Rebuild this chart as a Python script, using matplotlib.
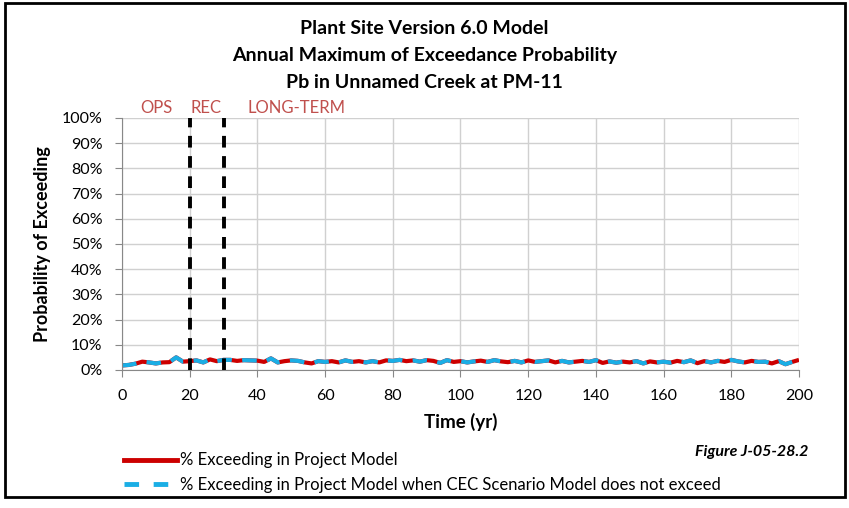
import numpy as np
import matplotlib
matplotlib.use("Agg")
import matplotlib.pyplot as plt
from matplotlib.patches import Rectangle
from matplotlib.lines import Line2D

plt.rcParams['font.family'] = ['Lato', 'DejaVu Sans']

# time in years (every 2 yr)
years = list(range(0, 201, 2))

# % exceeding in project model
pct_project = [1.8, 2.0, 2.5, 3.3, 3.0, 2.6, 3.0, 3.1, 5.0, 3.3,
               3.5, 3.8, 3.0, 4.2, 3.5, 4.0, 4.0, 3.6, 3.9, 3.8,
               3.7, 3.2, 4.6, 3.0, 3.5, 3.8, 3.6, 3.0, 2.6, 3.5,
               3.2, 3.5, 3.0, 3.8, 3.2, 3.5, 3.0, 3.5, 3.0, 3.8,
               3.6, 4.0, 3.5, 3.8, 3.3, 3.9, 3.6, 2.8, 3.9, 3.2,
               3.5, 3.0, 3.4, 3.7, 3.2, 3.9, 3.4, 3.1, 3.6, 3.0,
               3.8, 3.2, 3.5, 3.8, 3.0, 3.6, 3.0, 3.3, 3.6, 3.2,
               3.9, 2.8, 3.4, 2.9, 3.3, 3.0, 3.5, 2.6, 3.4, 3.0,
               3.3, 2.9, 3.6, 3.1, 3.8, 2.7, 3.5, 3.0, 3.6, 3.2,
               4.0, 3.4, 3.0, 3.6, 3.2, 3.3, 2.6, 3.5, 2.3, 3.2,
               4.0]

# % exceeding in project model when CEC scenario model does not exceed
pct_cec = [1.8, 2.0, 2.5, 3.3, 3.0, 2.6, 3.0, 3.1, 5.0, 3.3,
           3.5, 3.8, 3.0, 4.2, 3.5, 4.0, 4.0, 3.6, 3.9, 3.8,
           3.7, 3.2, 4.6, 3.0, 3.5, 3.8, 3.6, 3.0, 2.6, 3.5,
           3.2, 3.5, 3.0, 3.8, 3.2, 3.5, 3.0, 3.5, 3.0, 3.8,
           3.6, 4.0, 3.5, 3.8, 3.3, 3.9, 3.6, 2.8, 3.9, 3.2,
           3.5, 3.0, 3.4, 3.7, 3.2, 3.9, 3.4, 3.1, 3.6, 3.0,
           3.8, 3.2, 3.5, 3.8, 3.0, 3.6, 3.0, 3.3, 3.6, 3.2,
           3.9, 2.8, 3.4, 2.9, 3.3, 3.0, 3.5, 2.6, 3.4, 3.0,
           3.3, 2.9, 3.6, 3.1, 3.8, 2.7, 3.5, 3.0, 3.6, 3.2,
           4.0, 3.4, 3.0, 3.6, 3.2, 3.3, 2.6, 3.5, 2.3, 3.2,
           4.0]

phase_lines = [20, 30]
phase_labels = ["OPS", "REC", "LONG-TERM"]
phase_label_x = [5.3, 20.3, 37.2]

titles = ["Plant Site Version 6.0 Model",
          "Annual Maximum of Exceedance Probability",
          "Pb in Unnamed Creek at PM-11"]

fig = plt.figure(figsize=(8.49, 5.08), dpi=100)
ax = fig.add_axes([0.1437, 0.2717, 0.7974, 0.4961])

ax.plot(years, pct_project, color='#cc0000', lw=3, solid_capstyle='butt')
ax.plot(years, pct_cec, color='#1aaee5', lw=3, dashes=(3.5, 2.5))

for xv in phase_lines:
    ax.axvline(xv, color='black', lw=2.8, dashes=(3, 2.2), zorder=5)

for lab, xv in zip(phase_labels, phase_label_x):
    ax.text(xv, 100.8, lab, color='#c0504d', fontsize=12, ha='left', va='bottom')

ax.set_xlim(0, 200)
ax.set_ylim(0, 100)
ax.set_xticks(range(0, 201, 20))
ax.set_yticks(range(0, 101, 10))
ax.set_yticklabels(["{}%".format(v) for v in range(0, 101, 10)])
ax.grid(True, color='#d0d0d0', lw=1)
ax.set_axisbelow(True)
for s in ['top', 'right']:
    ax.spines[s].set_visible(False)
for s in ['left', 'bottom']:
    ax.spines[s].set_color('#888888')
ax.tick_params(colors='#888888', labelcolor='black', labelsize=11.5, length=5)
ax.tick_params(axis='x', pad=9)
ax.tick_params(axis='y', pad=9)

ax.set_xlabel("Time (yr)", fontsize=13.5, fontweight='bold', labelpad=7)
ax.set_ylabel("Probability of Exceeding", fontsize=13, fontweight='bold', labelpad=8)

for i, t in enumerate(titles):
    fig.text(0.5, 1 - (28 + 27.5 * i) / 508, t, ha='center', va='center',
             fontsize=14, fontweight='bold')

# legend below the chart
leg_handles = [Line2D([], [], color='#cc0000', lw=3.5),
               Line2D([], [], color='#1aaee5', lw=3.5, dashes=(3, 3))]
leg = fig.legend(leg_handles,
                 ["% Exceeding in Project Model",
                  "% Exceeding in Project Model when CEC Scenario Model does not exceed"],
                 loc='upper left', bbox_to_anchor=(0.136, 1 - 444 / 508),
                 frameon=False, fontsize=12, handlelength=3.2, handletextpad=0.2,
                 labelspacing=0.5, borderpad=0)

fig.text(808 / 849, 1 - 452 / 508, "Figure J-05-28.2", ha='right', va='center',
         fontsize=11.5, fontweight='bold', style='italic')

fig.patches.append(Rectangle((5 / 849, 1 - 497 / 508), 840 / 849, 494 / 508,
                             transform=fig.transFigure, fill=False,
                             edgecolor='black', lw=2))

fig.savefig("out.png", dpi=100)
